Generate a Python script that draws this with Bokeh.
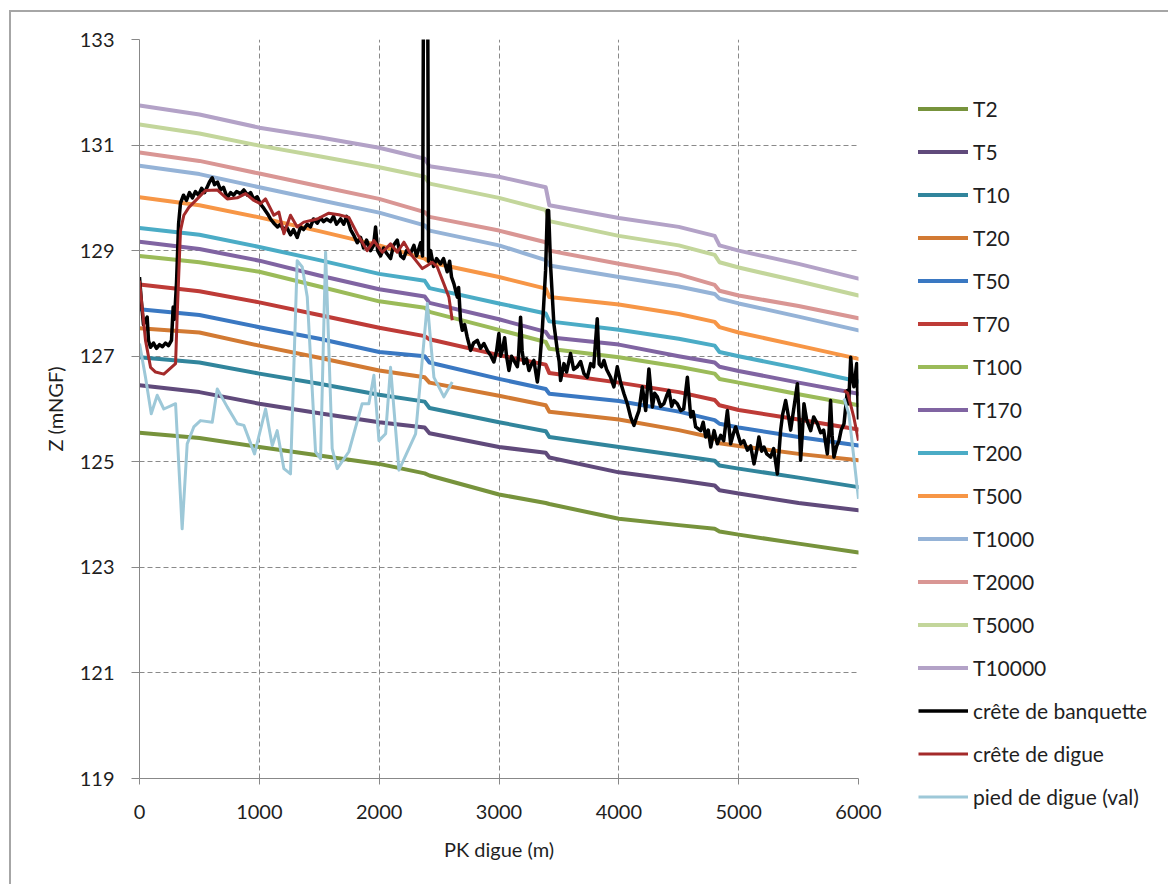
import math
from bokeh.plotting import figure
from bokeh.models import Range1d, Legend, LegendItem, FixedTicker
from bokeh.embed import file_html
from bokeh.resources import INLINE

# ---------------- data ----------------
PK = [0, 500, 1000, 1500, 2000, 2380, 2420, 3000, 3390, 3420, 4000, 4500, 4800, 4840, 5000, 5500, 6000]

T2     = [125.55, 125.45, 125.28, 125.12, 124.96, 124.78, 124.74, 124.38, 124.22, 124.20, 123.92, 123.80, 123.73, 123.68, 123.62, 123.45, 123.28]
T5     = [126.45, 126.32, 126.10, 125.92, 125.75, 125.65, 125.54, 125.28, 125.17, 125.08, 124.80, 124.65, 124.55, 124.46, 124.40, 124.22, 124.08]
T10    = [126.98, 126.88, 126.67, 126.48, 126.27, 126.14, 126.02, 125.75, 125.58, 125.47, 125.28, 125.12, 125.02, 124.93, 124.87, 124.70, 124.52]
T20    = [127.53, 127.45, 127.20, 126.97, 126.73, 126.60, 126.50, 126.25, 126.07, 125.95, 125.80, 125.60, 125.45, 125.35, 125.30, 125.15, 125.03]
T50    = [127.89, 127.78, 127.55, 127.33, 127.08, 127.00, 126.88, 126.57, 126.38, 126.29, 126.15, 125.95, 125.79, 125.72, 125.65, 125.47, 125.31]
T70    = [128.36, 128.23, 128.02, 127.78, 127.54, 127.38, 127.32, 127.02, 126.84, 126.68, 126.50, 126.32, 126.17, 126.07, 125.98, 125.80, 125.61]
T100   = [128.90, 128.78, 128.60, 128.32, 128.04, 127.92, 127.84, 127.50, 127.27, 127.14, 126.98, 126.80, 126.67, 126.57, 126.50, 126.28, 126.07]
T170   = [129.17, 129.03, 128.81, 128.53, 128.27, 128.13, 128.01, 127.70, 127.46, 127.36, 127.22, 127.00, 126.88, 126.80, 126.72, 126.50, 126.29]
T200   = [129.43, 129.30, 129.07, 128.82, 128.56, 128.43, 128.29, 128.00, 127.81, 127.66, 127.50, 127.33, 127.20, 127.08, 127.00, 126.77, 126.52]
T500   = [130.01, 129.86, 129.63, 129.37, 129.10, 128.85, 128.78, 128.50, 128.28, 128.12, 127.98, 127.80, 127.65, 127.55, 127.45, 127.20, 126.95]
T1000  = [130.61, 130.45, 130.20, 129.96, 129.72, 129.48, 129.38, 129.10, 128.82, 128.72, 128.50, 128.32, 128.18, 128.09, 128.00, 127.75, 127.49]
T2000  = [130.86, 130.70, 130.46, 130.22, 129.98, 129.73, 129.64, 129.38, 129.16, 129.00, 128.75, 128.55, 128.35, 128.24, 128.15, 127.95, 127.72]
T5000  = [131.39, 131.22, 130.99, 130.79, 130.58, 130.40, 130.27, 130.00, 129.77, 129.56, 129.28, 129.10, 128.92, 128.78, 128.68, 128.42, 128.15]
T10000 = [131.75, 131.58, 131.33, 131.15, 130.95, 130.74, 130.60, 130.40, 130.20, 129.86, 129.62, 129.45, 129.28, 129.10, 129.00, 128.75, 128.47]

BANQUETTE = [
    (0, 128.5), (17, 128.0), (33, 127.6), (64, 127.74), (75, 127.3), (92, 127.17), (117, 127.25), (142, 127.15),
    (167, 127.22), (192, 127.18), (217, 127.25), (242, 127.2), (267, 127.3), (281, 127.93), (292, 127.7),
    (309, 128.4), (326, 129.5), (342, 129.9), (367, 130.05), (392, 129.95), (417, 130.1), (442, 130.0),
    (467, 130.12), (492, 130.05), (518, 130.18), (543, 130.1), (568, 130.22), (584, 130.3), (607, 130.38),
    (626, 130.25), (651, 130.3), (676, 130.15), (701, 130.2), (732, 130.0), (760, 130.1), (785, 130.05),
    (810, 130.12), (843, 130.08), (871, 130.15), (902, 130.05), (927, 130.1), (952, 129.98), (982, 130.02),
    (1010, 129.88), (1038, 129.8), (1068, 129.7), (1093, 129.6), (1121, 129.52), (1152, 129.45), (1177, 129.5),
    (1205, 129.38), (1227, 129.45), (1260, 129.3), (1285, 129.4), (1316, 129.25), (1344, 129.45), (1369, 129.4),
    (1400, 129.5), (1427, 129.45), (1452, 129.6), (1483, 129.52), (1511, 129.62), (1536, 129.55), (1561, 129.6),
    (1594, 129.55), (1619, 129.65), (1644, 129.5), (1678, 129.6), (1705, 129.5), (1728, 129.65), (1761, 129.4),
    (1786, 129.3), (1817, 129.15), (1845, 129.25), (1870, 129.05), (1895, 129.2), (1928, 129.0), (1953, 129.1),
    (1970, 129.45), (1987, 129.0), (2012, 128.9), (2037, 129.05), (2062, 128.95), (2095, 128.85), (2120, 129.1),
    (2151, 129.2), (2179, 128.9), (2204, 128.85), (2229, 129.0), (2262, 128.95), (2290, 129.1), (2312, 128.9),
    (2346, 129.15), (2362, 128.9), (2371, 134.5), (2404, 134.5), (2412, 128.8), (2429, 129.0), (2454, 128.7),
    (2479, 128.85), (2512, 128.75), (2537, 128.85), (2568, 128.6), (2588, 128.8), (2604, 128.5), (2624, 128.37),
    (2652, 128.12), (2663, 128.3), (2679, 127.68), (2694, 127.49), (2713, 127.6), (2735, 127.36), (2763, 127.11),
    (2788, 127.25), (2819, 127.3), (2846, 127.15), (2874, 127.24), (2905, 127.1), (2930, 127.02), (2957, 126.89),
    (2980, 127.1), (2999, 127.43), (3013, 127.0), (3027, 127.11), (3047, 127.35), (3063, 127.0), (3083, 126.73),
    (3105, 127.0), (3124, 126.92), (3153, 126.8), (3163, 127.0), (3180, 127.74), (3193, 127.1), (3208, 126.86),
    (3230, 126.95), (3250, 126.73), (3272, 126.85), (3291, 126.92), (3320, 126.51), (3339, 126.86), (3361, 127.49),
    (3389, 128.63), (3403, 129.76), (3414, 129.76), (3431, 128.69), (3458, 127.61), (3487, 127.11), (3502, 126.9),
    (3514, 126.54), (3542, 126.86), (3564, 126.7), (3597, 127.05), (3623, 126.75), (3653, 126.8), (3681, 126.9),
    (3709, 126.67), (3737, 126.6), (3765, 126.86), (3790, 126.8), (3820, 127.71), (3836, 126.85), (3856, 126.8),
    (3876, 126.92), (3898, 126.75), (3931, 126.6), (3959, 126.42), (3987, 126.8), (4015, 126.5), (4043, 126.29),
    (4071, 126.1), (4098, 125.85), (4126, 125.69), (4149, 125.85), (4168, 125.97), (4196, 126.42), (4224, 125.97),
    (4251, 126.76), (4280, 126.04), (4299, 126.3), (4321, 126.23), (4349, 126.05), (4376, 126.1), (4399, 126.25),
    (4418, 126.35), (4441, 126.05), (4460, 126.16), (4488, 126.1), (4516, 125.97), (4541, 126.0), (4572, 126.6),
    (4600, 125.85), (4620, 125.95), (4641, 125.66), (4683, 125.59), (4704, 125.75), (4725, 125.47), (4746, 125.6),
    (4767, 125.28), (4795, 125.59), (4822, 125.34), (4850, 125.5), (4875, 125.4), (4906, 125.97), (4933, 125.34),
    (4958, 125.55), (4975, 125.66), (5017, 125.34), (5042, 125.4), (5073, 125.22), (5100, 125.3), (5128, 124.96),
    (5150, 125.2), (5169, 125.47), (5192, 125.2), (5211, 125.28), (5234, 125.15), (5267, 125.09), (5292, 125.25),
    (5323, 124.77), (5334, 125.1), (5350, 125.59), (5367, 125.9), (5392, 126.16), (5420, 125.8), (5434, 125.6),
    (5462, 126.04), (5490, 126.48), (5505, 125.8), (5517, 125.03), (5530, 125.5), (5545, 126.1), (5567, 125.8),
    (5601, 125.59), (5626, 125.85), (5657, 125.72), (5684, 125.55), (5709, 125.6), (5740, 125.15), (5755, 125.6),
    (5767, 126.16), (5780, 125.5), (5795, 125.09), (5818, 125.3), (5837, 125.4), (5855, 125.6), (5879, 125.72),
    (5907, 126.35), (5918, 126.1), (5935, 126.98), (5947, 126.6), (5962, 126.42), (5985, 126.86), (6000, 125.8),
]

DIGUE = [
    (0, 128.43), (50, 127.3), (92, 126.79), (134, 126.7), (203, 126.66), (301, 126.86), (315, 127.81),
    (342, 129.38), (370, 129.67), (412, 129.82), (482, 129.98), (551, 130.14), (649, 130.15), (732, 129.98),
    (816, 130.0), (885, 130.08), (955, 129.95), (1010, 129.89), (1052, 129.98), (1121, 129.67), (1163, 129.73),
    (1205, 129.32), (1260, 129.67), (1316, 129.45), (1371, 129.54), (1483, 129.6), (1580, 129.71), (1663, 129.68),
    (1747, 129.63), (1817, 129.32), (1900, 129.0), (1956, 129.19), (2026, 128.97), (2095, 129.13), (2151, 128.97),
    (2207, 129.16), (2262, 128.94), (2360, 128.66), (2402, 128.72), (2443, 128.78), (2485, 128.69), (2540, 128.37),
    (2582, 128.12), (2610, 127.68),
    (float("nan"), float("nan")),
    (5880, 126.35), (5910, 126.3), (5960, 125.85), (6000, 125.4),
]

PIED = [
    (0, 127.24), (50, 126.6), (98, 125.91), (148, 126.26), (203, 126.0), (301, 126.1), (356, 123.73),
    (398, 125.34), (453, 125.66), (509, 125.78), (607, 125.75), (649, 126.38), (732, 126.04), (816, 125.72),
    (871, 125.69), (960, 125.15), (1052, 126.0), (1108, 125.31), (1149, 125.59), (1205, 124.87), (1260, 124.77),
    (1316, 128.81), (1358, 128.69), (1400, 128.12), (1469, 125.19), (1511, 125.06), (1553, 128.97), (1608, 125.25),
    (1650, 124.87), (1747, 125.19), (1858, 126.1), (1914, 126.1), (1956, 126.64), (1998, 125.4), (2054, 125.53),
    (2095, 126.79), (2165, 124.84), (2304, 125.53), (2402, 128.0), (2429, 127.3), (2457, 126.6), (2540, 126.23),
    (2610, 126.51),
    (float("nan"), float("nan")),
    (5880, 126.2), (5920, 125.9), (6000, 124.3),
]

SERIES_NAMES = ["T2", "T5", "T10", "T20", "T50", "T70", "T100", "T170", "T200",
                "T500", "T1000", "T2000", "T5000", "T10000"]
SERIES_VALUES = [T2, T5, T10, T20, T50, T70, T100, T170, T200, T500, T1000, T2000, T5000, T10000]
SERIES_COLORS = ["#77933C", "#604A7B", "#31859C", "#D27A33", "#3A78C2", "#BE3B37", "#9BBB59",
                 "#8064A2", "#4BACC6", "#F79646", "#95B3D7", "#D99694", "#C3D69B", "#B3A2C7"]

X_TICKS = [0, 1000, 2000, 3000, 4000, 5000, 6000]
Y_TICKS = [119, 121, 123, 125, 127, 129, 131, 133]

FONT = "Lato"
TEXT_COLOR = "#1f1f1f"
AXIS_COLOR = "#888888"

# ---------------- figure ----------------
p = figure(frame_width=719, frame_height=739, output_backend="svg", toolbar_location=None,
           x_range=Range1d(0, 6000), y_range=Range1d(119, 133),
           min_border_left=128, min_border_top=27, min_border_right=0, min_border_bottom=106)
p.outline_line_color = None
p.background_fill_color = "white"
p.border_fill_color = "white"
p.styles = {"margin-left": "9px", "margin-top": "10px",
            "border-left": "2px solid #a6a6a6", "border-top": "2px solid #a6a6a6"}

for ax, ticks in ((p.xaxis[0], X_TICKS), (p.yaxis[0], Y_TICKS)):
    ax.ticker = FixedTicker(ticks=ticks)
    ax.axis_line_color = AXIS_COLOR
    ax.major_tick_line_color = AXIS_COLOR
    ax.minor_tick_line_color = None
    ax.major_tick_in = 0
    ax.major_label_text_font = FONT
    ax.major_label_text_font_size = "20px"
    ax.major_label_text_color = TEXT_COLOR
    ax.axis_label_text_font = FONT
    ax.axis_label_text_font_size = "20px"
    ax.axis_label_text_font_style = "normal"
    ax.axis_label_text_color = TEXT_COLOR

p.xaxis.major_tick_out = 6
p.yaxis.major_tick_out = 8
p.xaxis.major_label_standoff = 20
p.yaxis.major_label_standoff = 17
p.xaxis.axis_label = "PK digue (m)"
p.yaxis.axis_label = "Z (mNGF)"
p.xaxis.axis_label_standoff = 15
p.yaxis.axis_label_standoff = 10

for g in (p.xgrid[0], p.ygrid[0]):
    g.grid_line_color = "#8a8a8a"
    g.grid_line_dash = "5 3"
    g.grid_line_width = 1
p.xgrid.ticker = FixedTicker(ticks=X_TICKS)
p.ygrid.ticker = FixedTicker(ticks=Y_TICKS)

items = []
for name, vals, col in zip(SERIES_NAMES, SERIES_VALUES, SERIES_COLORS):
    r = p.line(PK, vals, line_color=col, line_width=4, line_join="round", line_cap="round")
    items.append(LegendItem(label=name, renderers=[r]))

bx = [a for a, b in BANQUETTE]
bz = [b for a, b in BANQUETTE]
r = p.line(bx, bz, line_color="#000000", line_width=3.5, line_join="round")
items.append(LegendItem(label="crête de banquette", renderers=[r]))

dx = [a for a, b in DIGUE]
dz = [b for a, b in DIGUE]
r = p.line(dx, dz, line_color="#A42A2A", line_width=3, line_join="round")
items.append(LegendItem(label="crête de digue", renderers=[r]))

px_ = [a for a, b in PIED]
pz = [b for a, b in PIED]
r = p.line(px_, pz, line_color="#9DC8D8", line_width=3, line_join="round")
items.append(LegendItem(label="pied de digue (val)", renderers=[r]))

legend = Legend(items=items, location=(60, -31),
                label_text_font=FONT, label_text_font_size="21px", label_text_color=TEXT_COLOR,
                glyph_width=50, glyph_height=25, label_height=25, spacing=18,
                label_standoff=5, padding=10, margin=0,
                border_line_color=None, background_fill_alpha=0)
p.add_layout(legend, "right")

open("out.html", "w").write(file_html(p, INLINE))
